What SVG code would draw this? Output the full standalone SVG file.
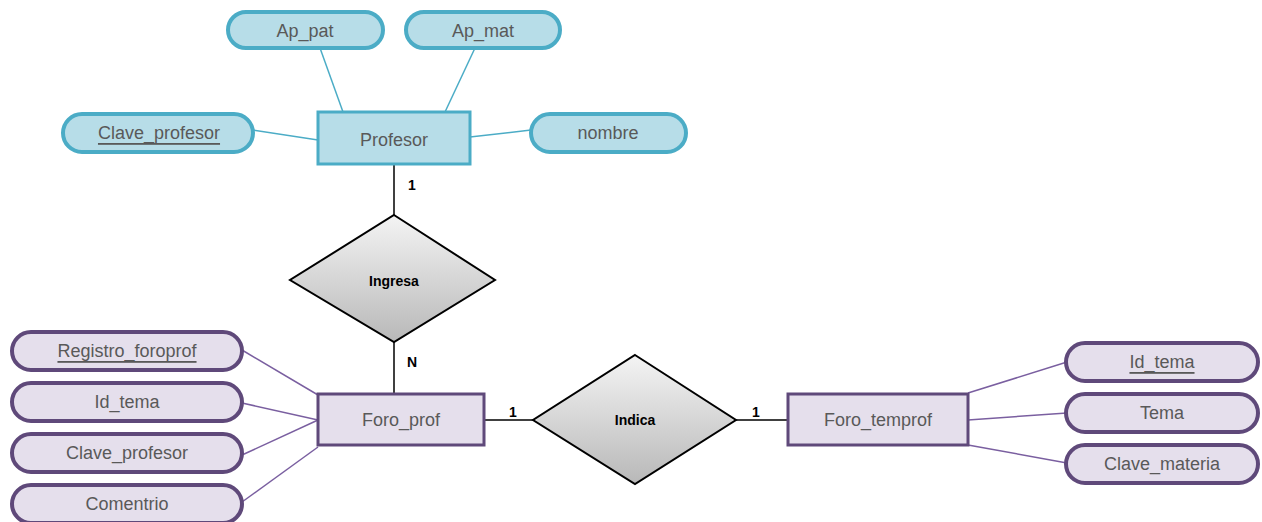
<svg xmlns="http://www.w3.org/2000/svg" width="1262" height="522" viewBox="0 0 1262 522">
<defs>
<linearGradient id="dg" x1="0" y1="0" x2="0" y2="1">
<stop offset="0" stop-color="#f4f4f4"/>
<stop offset="1" stop-color="#b8b8b8"/>
</linearGradient>
<style>
.ba{fill:#b7dde8;stroke:#4bacc6;stroke-width:4}
.br{fill:#b7dde8;stroke:#4bacc6;stroke-width:3}
.pa{fill:#e5dfec;stroke:#5f497a;stroke-width:4}
.pr{fill:#e5dfec;stroke:#5f497a;stroke-width:3}
.dm{fill:url(#dg);stroke:#000;stroke-width:2}
.t{font-family:"Liberation Sans",Arial,sans-serif;font-size:18px;fill:#595959;text-anchor:middle;dominant-baseline:central}
.dt{font-family:"Liberation Sans",Arial,sans-serif;font-size:14px;font-weight:bold;fill:#000;text-anchor:middle;dominant-baseline:central}
.c{font-family:"Liberation Sans",Arial,sans-serif;font-size:14px;font-weight:bold;fill:#000;text-anchor:middle;dominant-baseline:central}
.bl{stroke:#4bacc6;stroke-width:1.5;fill:none}
.pl{stroke:#7a5fa0;stroke-width:1.5;fill:none}
.kl{stroke:#000;stroke-width:1.5;fill:none}
</style>
</defs>
<g id="connectors">
<line class="bl" x1="320" y1="48" x2="343" y2="112"/>
<line class="bl" x1="475" y1="48" x2="445" y2="112"/>
<line class="bl" x1="253" y1="130" x2="318" y2="140"/>
<line class="bl" x1="531" y1="130" x2="470" y2="137"/>
<line class="kl" x1="394" y1="164" x2="394" y2="215"/>
<line class="kl" x1="394" y1="342" x2="394" y2="393"/>
<line class="pl" x1="242" y1="350" x2="318" y2="395"/>
<line class="pl" x1="242" y1="403" x2="318" y2="420"/>
<line class="pl" x1="242" y1="455" x2="318" y2="420"/>
<line class="pl" x1="242" y1="502" x2="318" y2="447"/>
<line class="kl" x1="484" y1="420" x2="533" y2="420"/>
<line class="kl" x1="736" y1="420" x2="788" y2="420"/>
<line class="pl" x1="968" y1="393" x2="1067" y2="362"/>
<line class="pl" x1="968" y1="420" x2="1067" y2="413"/>
<line class="pl" x1="968" y1="445" x2="1067" y2="463"/>
<text class="c" x="412" y="185">1</text>
<text class="c" x="412" y="362">N</text>
<text class="c" x="513" y="412">1</text>
<text class="c" x="756" y="412">1</text>
</g>
<g id="Profesor"><rect class="br" x="318" y="112" width="152" height="52"/><text class="t" x="394" y="140">Profesor</text></g>
<g id="Ap_pat"><rect class="ba" x="228" y="12" width="155" height="36" rx="18"/><text class="t" x="305" y="31">Ap_pat</text></g>
<g id="Ap_mat"><rect class="ba" x="406" y="12" width="154" height="36" rx="18"/><text class="t" x="483" y="31">Ap_mat</text></g>
<g id="Clave_profesor_p"><rect class="ba" x="63" y="114" width="190" height="38" rx="19"/><text class="t" x="159" y="133" text-decoration="underline">Clave_profesor</text></g>
<g id="nombre"><rect class="ba" x="531" y="114" width="155" height="38" rx="19"/><text class="t" x="608" y="133">nombre</text></g>
<g id="Ingresa"><polygon class="dm" points="394,215 495,280 394,342 290,280"/><text class="dt" x="394" y="281">Ingresa</text></g>
<g id="Foro_prof"><rect class="pr" x="318" y="394" width="166" height="51"/><text class="t" x="401" y="420">Foro_prof</text></g>
<g id="Registro_foroprof"><rect class="pa" x="12" y="332" width="230" height="38" rx="19"/><text class="t" x="127" y="351" text-decoration="underline">Registro_foroprof</text></g>
<g id="Id_tema_f"><rect class="pa" x="12" y="383" width="230" height="38" rx="19"/><text class="t" x="127" y="402">Id_tema</text></g>
<g id="Clave_profesor_f"><rect class="pa" x="12" y="434" width="230" height="38" rx="19"/><text class="t" x="127" y="453">Clave_profesor</text></g>
<g id="Comentrio"><rect class="pa" x="12" y="485" width="230" height="38" rx="19"/><text class="t" x="127" y="504">Comentrio</text></g>
<g id="Indica"><polygon class="dm" points="635,355 736,420 635,484 533,420"/><text class="dt" x="635" y="420">Indica</text></g>
<g id="Foro_temprof"><rect class="pr" x="788" y="394" width="180" height="51"/><text class="t" x="878" y="420">Foro_temprof</text></g>
<g id="Id_tema_t"><rect class="pa" x="1066" y="343" width="192" height="38" rx="19"/><text class="t" x="1162" y="362" text-decoration="underline">Id_tema</text></g>
<g id="Tema"><rect class="pa" x="1066" y="394" width="192" height="38" rx="19"/><text class="t" x="1162" y="413">Tema</text></g>
<g id="Clave_materia"><rect class="pa" x="1066" y="445" width="192" height="38" rx="19"/><text class="t" x="1162" y="464">Clave_materia</text></g>
</svg>
